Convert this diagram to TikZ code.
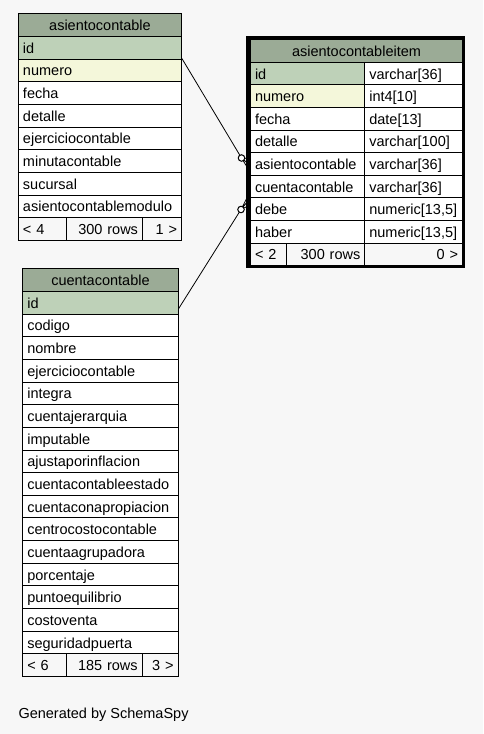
\documentclass[tikz,border=0pt]{standalone}
\usepackage{fontspec}
\setmainfont{Liberation Sans}
\usetikzlibrary{calc}
\newcommand\tabfnt{\fontsize{14.5}{17}\selectfont}
\definecolor{bgc}{HTML}{F7F7F7}
\definecolor{hdr}{HTML}{9BAB96}
\definecolor{pkc}{HTML}{BED1B8}
\definecolor{idxc}{HTML}{F4F7DA}
\tikzset{
  cellbase/.style={draw=black, line width=1pt, anchor=north west, inner xsep=4.5pt, inner ysep=0pt,
    font=\tabfnt, text height=11pt, text depth=0pt, fill=white},
  lcell/.style={cellbase, align=left, text width=#1},
  ccell/.style={cellbase, align=center, text width=#1},
  rcell/.style={cellbase, align=right, text width=#1},
  conn/.style={line width=0.8pt, black},
  dotc/.style={circle, draw=black, fill=white, line width=1pt, minimum size=6.5pt, inner sep=0pt},
}
\begin{document}
\begin{tikzpicture}[x=1pt,y=-1pt]
\useasboundingbox (0,0) rectangle (483,734);
\fill[bgc] (0,0) rectangle (483,734);

% ---- asientocontable
\node[ccell=154pt, fill=hdr, minimum height=22.67pt] (ac0) at (18,13.3) {asientocontable};
\foreach \t/\c [count=\i] in {id/pkc, numero/idxc, fecha/white, detalle/white, ejerciciocontable/white,
  minutacontable/white, sucursal/white, asientocontablemodulo/white}
  \node[lcell=154pt, fill=\c, minimum height=22.67pt] (ac\i) at (18,{13.3+22.67*\i}) {\t};
\node[lcell=38.7pt, fill=bgc, minimum height=22.67pt] (acf1) at (18,{13.3+22.67*9}) {< 4};
\node[rcell=67.3pt, fill=bgc, minimum height=22.67pt] (acf2) at (65.7,{13.3+22.67*9}) {300 rows};
\node[rcell=30pt, fill=bgc, minimum height=22.67pt] (acf3) at (142,{13.3+22.67*9}) {1 >};

% ---- cuentacontable
\node[ccell=146.3pt, fill=hdr, minimum height=22.65pt] (cc0) at (22.3,268.3) {cuentacontable};
\foreach \t/\c [count=\i] in {id/pkc, codigo/white, nombre/white, ejerciciocontable/white, integra/white,
  cuentajerarquia/white, imputable/white, ajustaporinflacion/white, cuentacontableestado/white,
  cuentaconapropiacion/white, centrocostocontable/white, cuentaagrupadora/white, porcentaje/white,
  puntoequilibrio/white, costoventa/white, seguridadpuerta/white}
  \node[lcell=146.3pt, fill=\c, minimum height=22.65pt] (cc\i) at (22.3,{268.3+22.65*\i}) {\t};
\node[lcell=34.4pt, fill=bgc, minimum height=22.65pt] (ccf1) at (22.3,{268.3+22.65*17}) {< 6};
\node[rcell=67pt, fill=bgc, minimum height=22.65pt] (ccf2) at (65.7,{268.3+22.65*17}) {185 rows};
\node[rcell=26.9pt, fill=bgc, minimum height=22.65pt] (ccf3) at (141.7,{268.3+22.65*17}) {3 >};

% ---- asientocontableitem
\node[ccell=203pt, fill=hdr, minimum height=22.4pt] (ai0) at (250,39.3) {asientocontableitem};
\node[lcell=105.3pt, fill=pkc, minimum height=22.6pt] (ai1) at (250,61.7) {id};
\node[lcell=88.7pt, minimum height=22.6pt] (at1) at (364.3,61.7) {varchar[36]};
\node[lcell=105.3pt, fill=idxc, minimum height=22.6pt] (ai2) at (250,84.3) {numero};
\node[lcell=88.7pt, minimum height=22.6pt] (at2) at (364.3,84.3) {int4[10]};
\node[lcell=105.3pt, minimum height=22.6pt] (ai3) at (250,106.9) {fecha};
\node[lcell=88.7pt, minimum height=22.6pt] (at3) at (364.3,106.9) {date[13]};
\node[lcell=105.3pt, minimum height=22.6pt] (ai4) at (250,129.5) {detalle};
\node[lcell=88.7pt, minimum height=22.6pt] (at4) at (364.3,129.5) {varchar[100]};
\node[lcell=105.3pt, minimum height=22.6pt] (ai5) at (250,152.1) {asientocontable};
\node[lcell=88.7pt, minimum height=22.6pt] (at5) at (364.3,152.1) {varchar[36]};
\node[lcell=105.3pt, minimum height=22.6pt] (ai6) at (250,174.7) {cuentacontable};
\node[lcell=88.7pt, minimum height=22.6pt] (at6) at (364.3,174.7) {varchar[36]};
\node[lcell=105.3pt, minimum height=22.6pt] (ai7) at (250,197.3) {debe};
\node[lcell=88.7pt, minimum height=22.6pt] (at7) at (364.3,197.3) {numeric[13,5]};
\node[lcell=105.3pt, minimum height=22.6pt] (ai8) at (250,219.9) {haber};
\node[lcell=88.7pt, minimum height=22.6pt] (at8) at (364.3,219.9) {numeric[13,5]};
\node[lcell=27.3pt, fill=bgc, minimum height=22.6pt] (aif1) at (250,242.5) {< 2};
\node[rcell=69pt, fill=bgc, minimum height=22.6pt] (aif2) at (286.3,242.5) {300 rows};
\node[rcell=88.7pt, fill=bgc, minimum height=22.6pt] (aif3) at (364.3,242.5) {0 >};
\draw[line width=3.4pt] (247.8,37.6) rectangle (463.6,266.6);

% ---- connectors
\coordinate (p1) at (241.5,158);
\coordinate (p2) at (241,209.5);
\coordinate (k1a) at (248,158.5);
\coordinate (k1b) at (248,163.5);
\coordinate (k1c) at (248,168.5);
\coordinate (k2a) at (248,196);
\coordinate (k2b) at (248,201);
\coordinate (k2c) at (248,206);
\coordinate (e2) at ($(cc1.south east)!0.25!(cc1.north east)$);
\draw[conn] (ac2.north east) -- (p1);
\draw[conn] (p1) -- (k1a) (p1) -- (k1b) (p1) -- (k1c);
\draw[conn] (e2) -- (p2);
\draw[conn] (p2) -- (k2a) (p2) -- (k2b) (p2) -- (k2c);
\node[dotc] (d1) at (p1) {};
\node[dotc] (d2) at (p2) {};

\node[anchor=base west, font=\tabfnt, inner sep=0pt] (gen) at (18.3,718) {Generated by SchemaSpy};
\end{tikzpicture}
\end{document}
